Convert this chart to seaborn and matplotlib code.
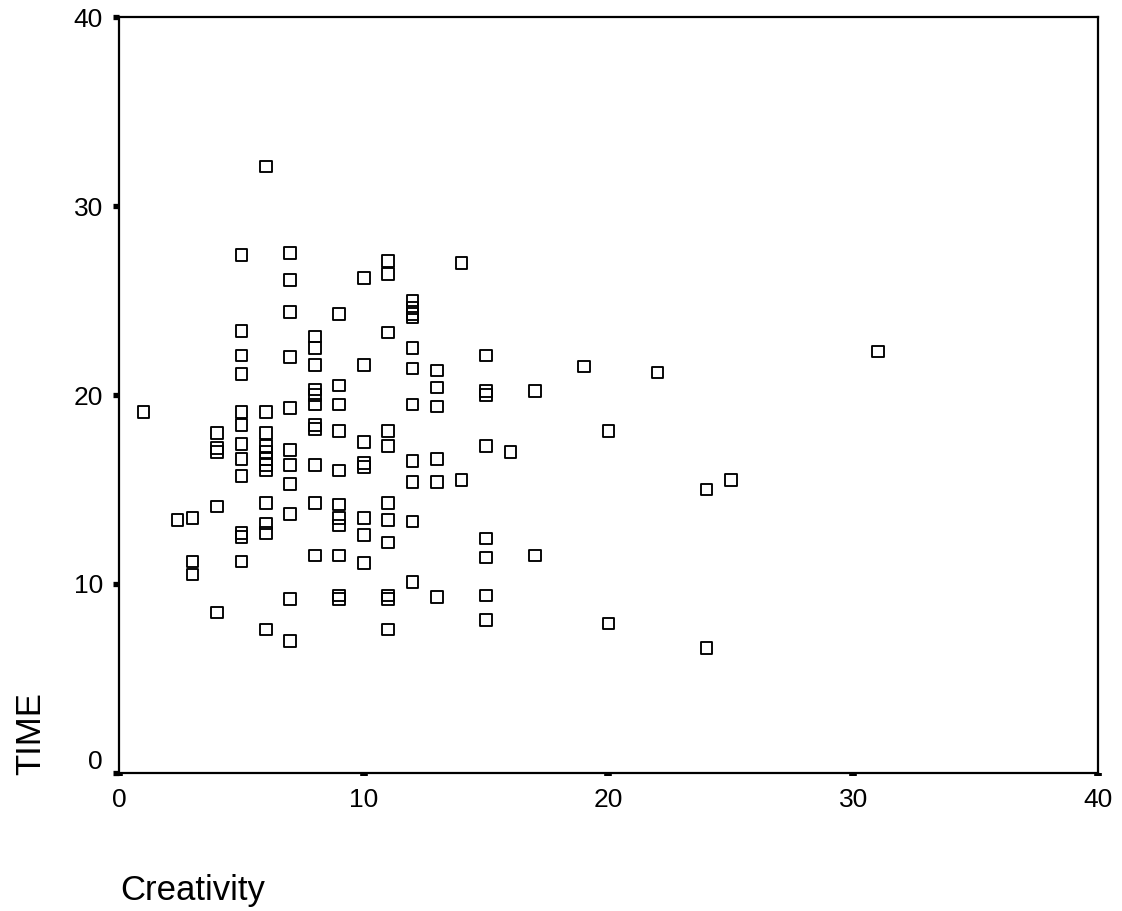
import pandas as pd
import matplotlib
matplotlib.use('Agg')
import matplotlib.pyplot as plt
import matplotlib.transforms as mtransforms
import seaborn as sns

# ─────────────────────────────────────────
# DATA (column by column)
# ─────────────────────────────────────────
creativity = (
    [1]
    + [2.4]
    + [3] * 3
    + [4] * 5
    + [5] * 12
    + [6] * 12
    + [7] * 11
    + [8] * 11
    + [9] * 11
    + [10] * 8
    + [11] * 11
    + [12] * 11
    + [13] * 6
    + [14] * 2
    + [15] * 8
    + [16, 17, 17, 19, 20, 20, 22, 24, 24, 25, 31]
)

time = (
    [19.1]
    + [13.4]
    + [13.5, 11.2, 10.5]
    + [18.0, 17.2, 17.0, 14.1, 8.5]
    + [27.4, 23.4, 22.1, 21.1, 19.1, 18.4, 17.4, 16.6, 15.7, 12.7, 12.5, 11.2]
    + [32.1, 19.1, 18.0, 17.3, 17.0, 16.6, 16.3, 16.0, 14.3, 13.2, 12.7, 7.6]
    + [27.5, 26.1, 24.4, 22.0, 19.3, 17.1, 16.3, 15.3, 13.7, 9.2, 7.0]
    + [23.1, 22.5, 21.6, 20.3, 20.0, 19.5, 18.4, 18.2, 16.3, 14.3, 11.5]
    + [24.3, 20.5, 19.5, 18.1, 16.0, 14.2, 13.5, 13.1, 11.5, 9.2, 9.4]
    + [26.2, 21.6, 17.5, 16.4, 16.2, 13.5, 12.6, 11.1]
    + [27.1, 26.4, 23.3, 18.1, 17.3, 14.3, 13.4, 12.2, 9.2, 9.4, 7.6]
    + [25.0, 24.6, 24.3, 24.1, 22.5, 21.4, 19.5, 16.5, 15.4, 13.3, 10.1]
    + [21.3, 20.4, 19.4, 16.6, 15.4, 9.3]
    + [27.0, 15.5]
    + [22.1, 20.0, 20.2, 17.3, 12.4, 11.4, 9.4, 8.1]
    + [17.0, 20.2, 11.5, 21.5, 18.1, 7.9, 21.2, 15.0, 6.6, 15.5, 22.3]
)

ticks = [0, 10, 20, 30, 40]

df = pd.DataFrame({'Creativity': creativity, 'TIME': time})

# ─────────────────────────────────────────
# PLOT
# ─────────────────────────────────────────
sns.set_style('white')
plt.rcParams['font.family'] = ['Liberation Sans', 'DejaVu Sans']
plt.rcParams['text.color'] = 'black'
plt.rcParams['xtick.color'] = 'black'
plt.rcParams['ytick.color'] = 'black'

fig = plt.figure(figsize=(11.22, 9.11), dpi=100)
ax = fig.add_axes([0.106, 0.1515, 0.8726, 0.8298])

sns.scatterplot(data=df, x='Creativity', y='TIME', ax=ax, marker='s', s=70,
                facecolor='none', edgecolor='black', linewidth=1.35)

ax.set_xlim(0, 40)
ax.set_ylim(0, 40)
ax.set_xticks(ticks)
ax.set_yticks(ticks)
ax.set_xticklabels([str(t) for t in ticks], fontsize=19)
ax.set_yticklabels([str(t) for t in ticks], fontsize=19)
# SPSS-like stubby tick marks just outside the frame
ax.tick_params(axis='x', bottom=True, direction='out', length=2.5, width=5.5, pad=8)
ax.tick_params(axis='y', left=True, direction='out', length=4.5, width=3.8, pad=7)
ax.set_xlabel('')
ax.set_ylabel('')

# the "0" on the y axis sits a little above its tick
lab0 = ax.get_yticklabels()[0]
lab0.set_transform(lab0.get_transform() + mtransforms.ScaledTranslation(0, 13 / 100, fig.dpi_scale_trans))

for side in ['top', 'right', 'bottom', 'left']:
    ax.spines[side].set_visible(True)
    ax.spines[side].set_color('black')
    ax.spines[side].set_linewidth(1.6)

fig.text(0.107, 0.0121, 'Creativity', fontsize=25, ha='left', va='baseline')
fig.text(0.0276, 0.1948, 'TIME', fontsize=25, ha='center', va='center', rotation=90)

plt.savefig('out.png', dpi=100)
plt.close()
